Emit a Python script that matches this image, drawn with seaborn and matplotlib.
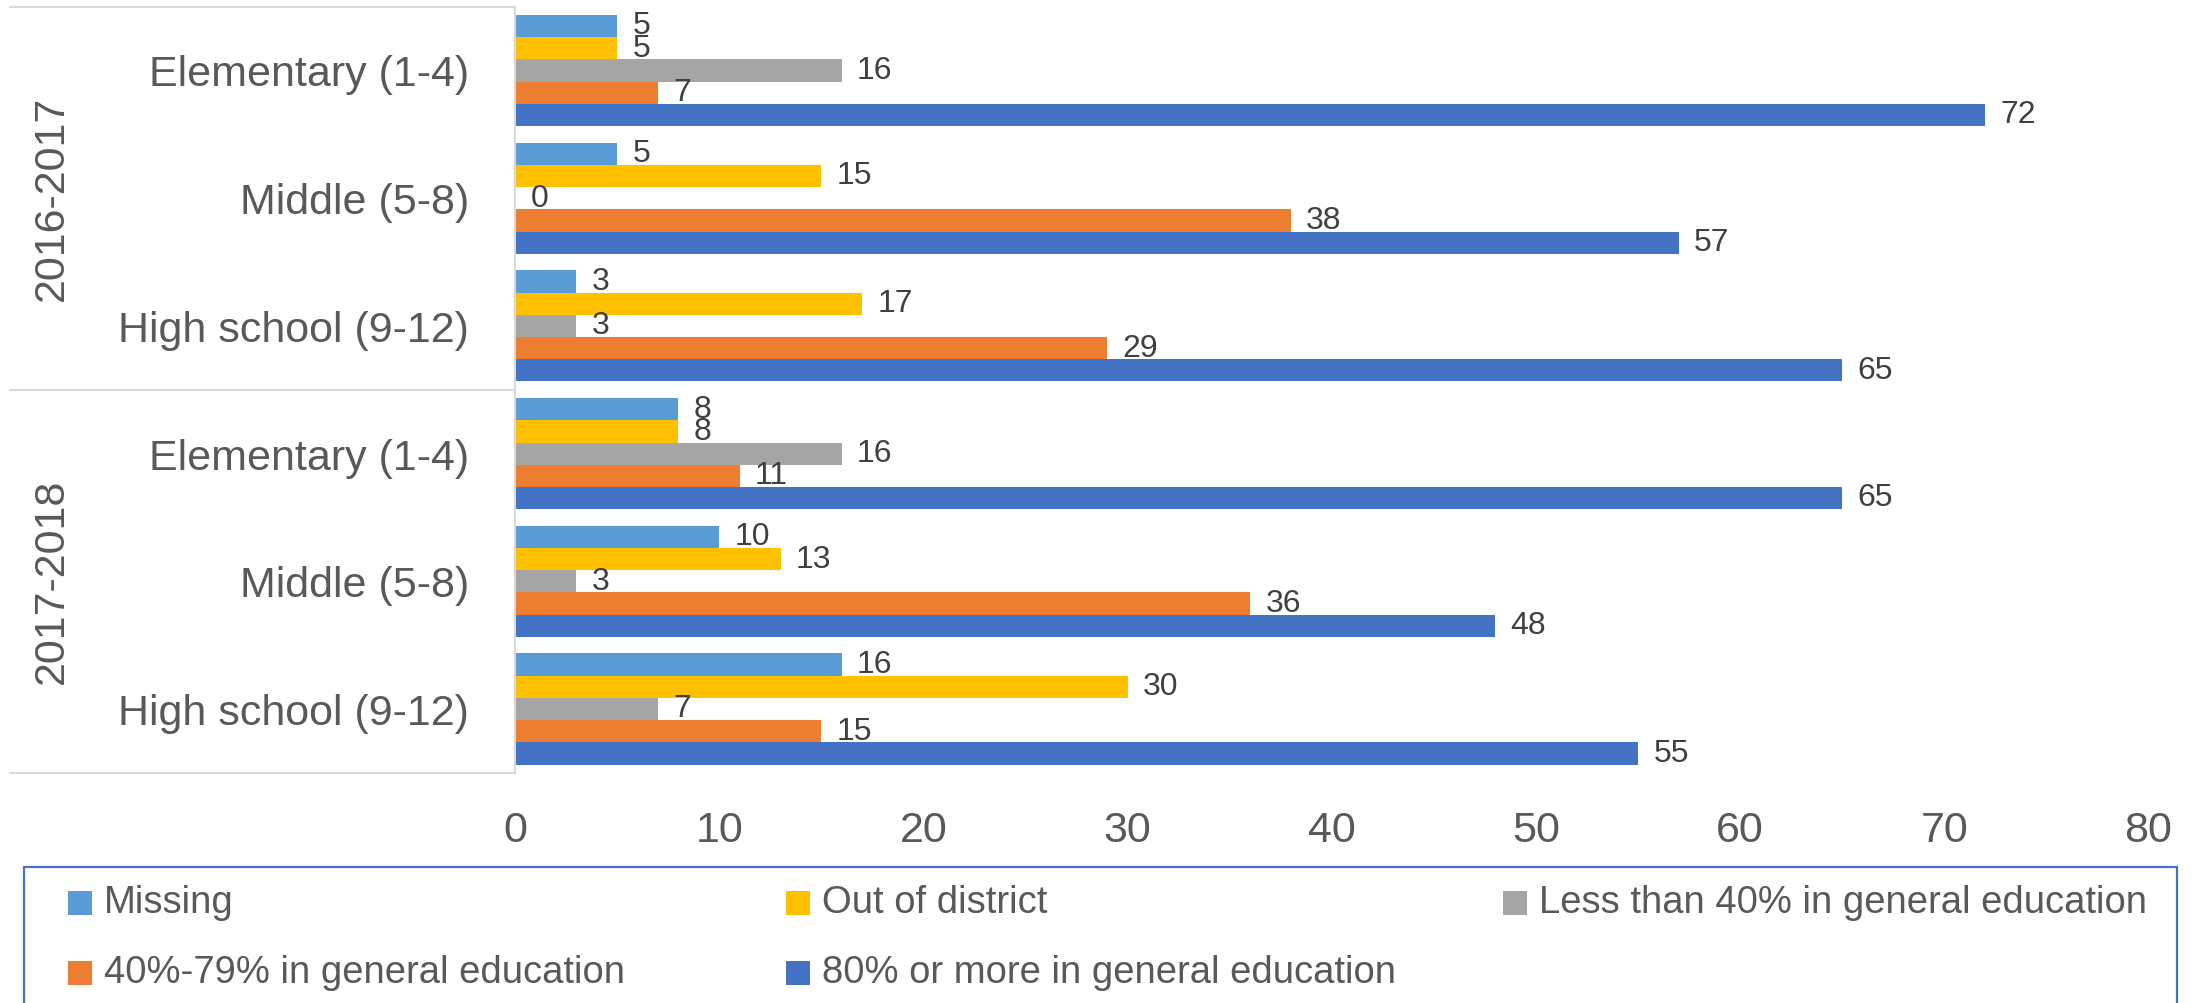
import matplotlib
matplotlib.use("Agg")
import matplotlib.pyplot as plt
import matplotlib.transforms as mtransforms
from matplotlib.patches import Rectangle
import pandas as pd
import seaborn as sns

# ---- data -------------------------------------------------------------
years = ["2016-2017", "2017-2018"]
levels = ["Elementary (1-4)", "Middle (5-8)", "High school (9-12)"]
placements = [
    "Missing",
    "Out of district",
    "Less than 40% in general education",
    "40%-79% in general education",
    "80% or more in general education",
]
colors = ["#5B9BD5", "#FFC000", "#A5A5A5", "#ED7D31", "#4472C4"]

# one value per (year, level), ordered 2016-17 E/M/H then 2017-18 E/M/H
missing = [5, 5, 3, 8, 10, 16]
out_of_district = [5, 15, 17, 8, 13, 30]
less_than_40 = [16, 0, 3, 16, 3, 7]
between_40_79 = [7, 38, 29, 11, 36, 15]
over_80 = [72, 57, 65, 65, 48, 55]
x_ticks = [0, 10, 20, 30, 40, 50, 60, 70, 80]

series = [missing, out_of_district, less_than_40, between_40_79, over_80]
slot_keys = [f"{y} | {lv}" for y in years for lv in levels]
rows = []
for name, vals in zip(placements, series):
    for key, v in zip(slot_keys, vals):
        rows.append({"slot": key, "placement": name, "value": v})
df = pd.DataFrame(rows)

# ---- figure -----------------------------------------------------------
sns.set_style("white")
plt.rcParams["font.family"] = ["Liberation Sans", "DejaVu Sans"]

W, H = 2201, 1003
fig = plt.figure(figsize=((W + 0.4) / 100, (H + 0.4) / 100), dpi=100)
ax_left, ax_right, ax_top, ax_bottom = 515, 2148, 7, 773
ax = fig.add_axes([ax_left / W, 1 - ax_bottom / H,
                   (ax_right - ax_left) / W, (ax_bottom - ax_top) / H])

sns.barplot(data=df, x="value", y="slot", hue="placement",
            order=slot_keys, hue_order=placements, palette=colors,
            orient="h", width=0.87, saturation=1, errorbar=None,
            legend=False, linewidth=0, ax=ax)

for cont in ax.containers:
    ax.bar_label(cont, fmt="%.0f", padding=11, fontsize=23, color="#404040")

n_slots = len(slot_keys)
ax.set_ylim(n_slots - 0.5, -0.5)
ax.set_xlim(0, 80)
ax.set_xticks(x_ticks)
ax.set_xticklabels([str(t) for t in x_ticks], fontsize=31, color="#595959")
ax.set_yticks(range(n_slots))
ax.set_yticklabels(levels * len(years), fontsize=31, color="#595959")
ax.tick_params(axis="y", length=0, pad=33)
ax.tick_params(axis="x", length=0, pad=27)
ax.set_xlabel("")
ax.set_ylabel("")

for side in ("top", "right", "bottom"):
    ax.spines[side].set_visible(False)
ax.spines["left"].set_color("#D9D9D9")
ax.spines["left"].set_linewidth(1.5)

# multi-level category frame on the left
blend = mtransforms.blended_transform_factory(fig.transFigure, ax.transData)
for yline in (-0.5, 2.5, 5.5):
    ax.plot([10 / W, ax_left / W], [yline, yline], transform=blend,
            color="#D9D9D9", lw=1.5, clip_on=False)
for i, yr in enumerate(years):
    ax.text(52 / W, i * 3 + 1, yr, transform=blend, rotation=90,
            ha="center", va="center", fontsize=31, color="#595959")

# ---- legend box -------------------------------------------------------
box_top = 867
fig.patches.append(Rectangle((24 / W, -0.05), (2177 - 24) / W,
                             (H - box_top) / H + 0.05,
                             transform=fig.transFigure, fill=False,
                             edgecolor="#4472C4", lw=1.6))
entry_pos = [(68, 903), (786, 903), (1503, 903), (68, 973), (786, 973)]
for (xm, yc), name, col in zip(entry_pos, placements, colors):
    fig.patches.append(Rectangle((xm / W, 1 - (yc + 12) / H), 24 / W, 24 / H,
                                 transform=fig.transFigure,
                                 facecolor=col, edgecolor="none"))
    fig.text((xm + 36) / W, 1 - yc / H, name, ha="left", va="center",
             fontsize=27.5, color="#595959")

fig.savefig("out.png", dpi=100, facecolor="white")
